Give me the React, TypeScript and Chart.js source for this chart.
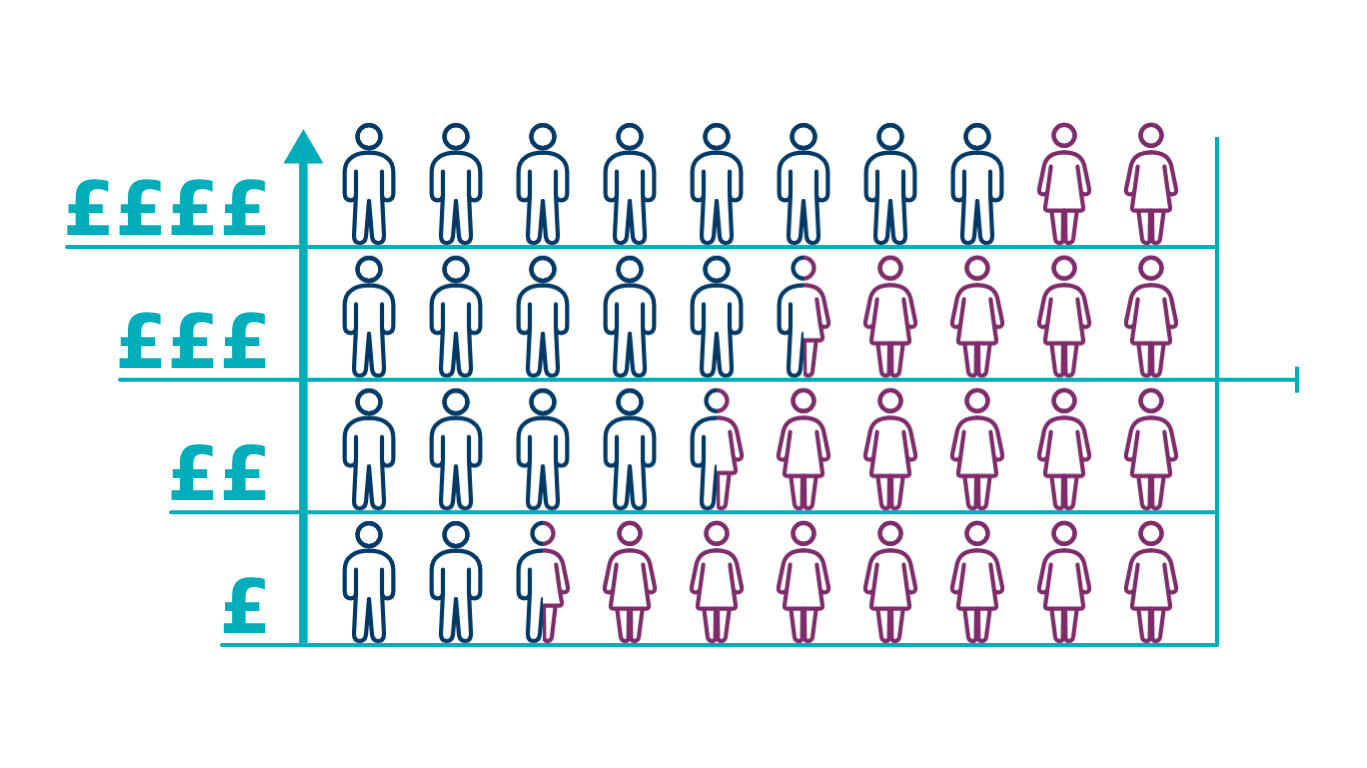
import React, { useEffect, useRef } from "react";
import { Chart, registerables } from "chart.js";

Chart.register(...registerables);

// ---- data ----
const bandLabels = ["£", "££", "£££", "££££"];
const bandLevels = [1, 2, 3, 4];
const menPerBand = [2.5, 4.5, 5.5, 8]; // out of ten people
const columns = [1, 2, 3, 4, 5, 6, 7, 8, 9, 10];
const lineStarts = [-0.692, -1.278, -1.865, -2.475];
const lineEnds = [10.758, 10.758, 11.679, 10.758];
const tickX = 11.679;
const tickHalfHeight = 0.098;
const axisX = 0.245;
const axisTop = 4.66;
const arrowCentre = 4.716;
const rightEdgeX = 10.758;
const rightEdgeTop = 4.83;

const NAVY = "#013a67";
const PURPLE = "#7f2c6b";
const TEAL = "#00aebb";

type Pt = { x: number; y: number };
const menPoints: Pt[] = [];
const womenPoints: Pt[] = [];
const splitPoints: Pt[] = [];
bandLevels.forEach((level, i) => {
  const men = menPerBand[i];
  columns.forEach((c) => {
    if (c <= men) menPoints.push({ x: c, y: level });
    else if (c - 1 < men) splitPoints.push({ x: c, y: level });
    else womenPoints.push({ x: c, y: level });
  });
});

// ---- icon markers (image centre sits on the row baseline) ----
const ICON_W = 80;
const ICON_H = 260;
const BASE = 396; // baseline in icon units (3 units = 1px)

type C = CanvasRenderingContext2D;

function manHalf(ctx: C) {
  ctx.beginPath();
  ctx.moveTo(0, 113);
  ctx.bezierCurveTo(-40, 113, -73, 130, -73, 172);
  ctx.lineTo(-73, 235);
  ctx.quadraticCurveTo(-73, 256, -55, 256);
  ctx.quadraticCurveTo(-39, 256, -39, 238);
  ctx.lineTo(-39, 170);
  ctx.moveTo(-39, 238);
  ctx.lineTo(-45, 362);
  ctx.quadraticCurveTo(-45, 384, -27, 384);
  ctx.quadraticCurveTo(-12, 384, -9, 365);
  ctx.lineTo(0, 258);
  ctx.stroke();
}

function womanHalf(ctx: C, hem: number) {
  ctx.beginPath();
  ctx.moveTo(0, 112);
  ctx.bezierCurveTo(-32, 112, -52, 122, -60, 150);
  ctx.lineTo(-75, 222);
  ctx.quadraticCurveTo(-77, 238, -63, 238);
  ctx.quadraticCurveTo(-53, 238, -50, 228);
  ctx.lineTo(-40, 155);
  ctx.moveTo(-50, 228);
  ctx.lineTo(-57, hem - 10);
  ctx.quadraticCurveTo(-58, hem, -48, hem);
  ctx.lineTo(0, hem);
  ctx.moveTo(-38, hem);
  ctx.lineTo(-27, 372);
  ctx.quadraticCurveTo(-25, 384, -13, 384);
  ctx.quadraticCurveTo(-4, 384, -4, 372);
  ctx.lineTo(-3, hem);
  ctx.stroke();
}

function head(ctx: C, y: number, r: number) {
  ctx.beginPath();
  ctx.arc(0, y, r, 0, Math.PI * 2);
  ctx.stroke();
}

function makeIcon(kind: "man" | "woman" | "split"): HTMLCanvasElement {
  const cv = document.createElement("canvas");
  cv.width = ICON_W;
  cv.height = ICON_H;
  const ctx = cv.getContext("2d") as C;
  ctx.translate(ICON_W / 2, ICON_H / 2);
  ctx.scale(1 / 3, 1 / 3);
  ctx.translate(0, -BASE);
  ctx.lineWidth = 12.5;
  ctx.lineCap = "round";
  ctx.lineJoin = "round";
  const side = (draw: () => void, sign: number, colour: string, clip: boolean) => {
    ctx.save();
    if (clip) {
      ctx.beginPath();
      ctx.rect(sign < 0 ? -200 : 0, 0, 200, 500);
      ctx.clip();
    }
    ctx.strokeStyle = colour;
    ctx.scale(sign < 0 ? 1 : -1, 1);
    draw();
    ctx.restore();
  };
  if (kind === "man") {
    const d = () => {
      head(ctx, 65, 34.5);
      manHalf(ctx);
    };
    side(d, -1, NAVY, false);
    side(d, 1, NAVY, false);
  } else if (kind === "woman") {
    const d = () => {
      head(ctx, 61, 31.5);
      womanHalf(ctx, 287);
    };
    side(d, -1, PURPLE, false);
    side(d, 1, PURPLE, false);
  } else {
    side(() => {
      head(ctx, 61, 31.5);
      manHalf(ctx);
    }, -1, NAVY, true);
    side(() => {
      head(ctx, 61, 31.5);
      womanHalf(ctx, 278);
    }, 1, PURPLE, true);
  }
  return cv;
}

export default function App() {
  const ref = useRef<HTMLCanvasElement>(null);
  useEffect(() => {
    if (!ref.current) return;
    const lineStyle = {
      type: "line" as const,
      showLine: true,
      borderColor: TEAL,
      backgroundColor: TEAL,
      borderCapStyle: "round" as const,
      pointRadius: 0,
      clip: false as const,
    };
    const iconStyle = (pts: Pt[], icon: HTMLCanvasElement, label: string) => ({
      type: "scatter" as const,
      label,
      data: pts,
      pointStyle: icon,
      showLine: false,
      clip: false as const,
    });
    const chart = new Chart(ref.current, {
      type: "scatter",
      data: {
        datasets: [
          iconStyle(menPoints, makeIcon("man"), "Men"),
          iconStyle(womenPoints, makeIcon("woman"), "Women"),
          iconStyle(splitPoints, makeIcon("split"), "Split"),
          ...bandLevels.map((level, i) => ({
            ...lineStyle,
            label: bandLabels[i] + " line",
            borderWidth: 4,
            data: [
              { x: lineStarts[i], y: level },
              { x: lineEnds[i], y: level },
            ],
          })),
          {
            ...lineStyle,
            label: "Tick",
            borderWidth: 4,
            borderCapStyle: "butt" as const,
            data: [
              { x: tickX, y: 3 - tickHalfHeight },
              { x: tickX, y: 3 + tickHalfHeight },
            ],
          },
          {
            ...lineStyle,
            label: "Right edge",
            borderWidth: 4,
            borderCapStyle: "butt" as const,
            data: [
              { x: rightEdgeX, y: 1 },
              { x: rightEdgeX, y: rightEdgeTop },
            ],
          },
          {
            ...lineStyle,
            label: "Income axis",
            borderWidth: 8.5,
            borderCapStyle: "butt" as const,
            data: [
              { x: axisX, y: 1 },
              { x: axisX, y: axisTop },
            ],
          },
          {
            type: "scatter" as const,
            label: "Arrow",
            data: [{ x: axisX, y: arrowCentre }],
            pointStyle: "triangle",
            pointRadius: 23.1,
            backgroundColor: TEAL,
            borderWidth: 0,
            clip: false as const,
          },
        ],
      } as any,
      options: {
        animation: false,
        responsive: false,
        devicePixelRatio: 1,
        layout: { padding: 0, autoPadding: false },
        plugins: { legend: { display: false }, tooltip: { enabled: false } },
        events: [],
        scales: {
          x: { type: "linear", min: -3.2462, max: 12.4845, display: false },
          y: {
            type: "linear",
            min: 0.0729,
            max: 5.8617,
            position: { x: -0.122 } as any,
            afterBuildTicks: (scale: any) => {
              scale.ticks = bandLevels.map((value) => ({ value }));
            },
            afterFit: (scale: any) => {
              scale.paddingTop = 0;
              scale.paddingBottom = 0;
              scale.paddingLeft = 0;
              scale.paddingRight = 0;
            },
            grid: { display: false, drawTicks: false },
            border: { display: false },
            ticks: {
              autoSkip: false,
              padding: 0,
              labelOffset: -31.5,
              color: TEAL,
              font: { family: "'DejaVu Sans'", size: 75, weight: "bold" },
              callback: (v: any) => bandLabels[Number(v) - 1],
            },
          },
        },
      },
    });
    return () => chart.destroy();
  }, []);
  return (
    <div style={{ position: "absolute", left: 0, top: 0, width: 1367, height: 768, background: "#fff" }}>
      <canvas ref={ref} width={1367} height={768} style={{ display: "block" }} />
    </div>
  );
}
